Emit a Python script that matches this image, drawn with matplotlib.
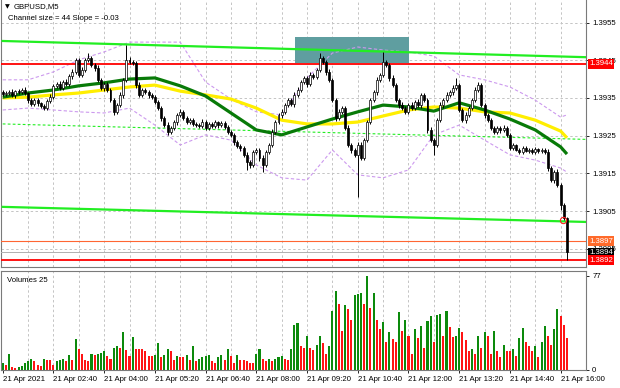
import numpy as np
import matplotlib.pyplot as plt
from matplotlib.patches import Rectangle
from matplotlib import transforms

plt.rcParams['font.family'] = ['Liberation Sans', 'DejaVu Sans']
FS = 5.6

# prices are stored as points (0.00001) above 1.39000
BASE = 1.39
PT = 0.00001

first_open_pt = 365
closes_pt = [
    360,
    363, 366, 358, 368, 366, 371, 363, 344, 334, 344,
    336, 328, 323, 342, 352, 382, 387, 376, 392, 387,
    408, 419, 450, 411, 424, 450, 456, 437, 429, 397,
    376, 387, 371, 344, 313, 331, 358, 397, 450, 445,
    443, 384, 358, 371, 366, 358, 352, 339, 323, 297,
    278, 260, 270, 286, 305, 313, 297, 286, 291, 281,
    279,
    276, 286, 270, 281, 276, 286, 278, 283, 273, 260,
    252, 233, 222, 217, 199, 180, 172, 207, 212, 191,
    172, 207, 225, 260, 286, 305, 313, 331, 344, 334,
    358, 371, 392, 403, 387, 411, 405, 424, 456, 445,
    419, 397, 344, 297, 313, 323, 270, 225, 212, 199,
    225, 191, 238, 286, 344, 366, 397, 411, 445, 437,
    403, 384, 344, 331, 323, 313, 331, 323, 339, 331,
    358, 344, 265, 238, 225, 291, 331, 344, 358, 366,
    376, 384, 318, 291, 305, 323, 344, 371, 384, 331,
    305, 291, 270, 260, 270, 265, 270, 252, 217, 225,
    212, 207, 217,
    210,
    212, 207, 214, 209, 212, 207, 164, 132, 154, 119, 66, 32, -60,
]
upper_wick_pt = [
    5, 6, 5, 8, 4, 6, 5, 7, 4, 6,
    5, 6, 4, 7, 5, 8, 6, 5, 7, 6,
    8, 6, 7, 6, 5, 8, 7, 13, 5, 6,
    7, 5, 6, 4, 5, 6, 5, 7, 5, 40,
    8, 6, 5, 7, 6, 5, 6, 4, 5, 6,
    5, 4, 7, 5, 6, 5, 8, 4, 6, 5,
    6, 5, 4, 7, 5, 6, 5, 6, 4, 6,
    5, 6, 4, 5, 6, 7, 5, 8, 6, 5,
    6, 5, 7, 6, 5, 8, 6, 5, 7, 6,
    5, 6, 8, 7, 5, 6, 6, 7, 5, 6,
    13, 6, 5, 7, 6, 5, 8, 6, 5, 7,
    6, 5, 7, 8, 6, 5, 7, 6, 8, 6,
    27, 6, 5, 7, 6, 5, 8, 6, 5, 7,
    6, 8, 5, 6, 5, 7, 6, 5, 8, 6,
    7, 6, 8, 19, 6, 5, 7, 6, 5, 8,
    7, 6, 5, 6, 7, 5, 6, 5, 7, 6,
    5, 6, 4, 5, 6, 5, 4, 6, 5, 4,
    5, 6, 7, 6, 5, 8, 5, 4, 3,
]
lower_wick_pt = [
    5, 4, 6, 5, 7, 5, 6, 5, 8, 6,
    5, 7, 6, 5, 5, 6, 5, 7, 6, 5,
    6, 5, 7, 5, 6, 5, 4, 6, 5, 7,
    6, 5, 7, 6, 5, 8, 6, 5, 7, 6,
    5, 6, 7, 5, 6, 5, 7, 6, 5, 6,
    7, 6, 8, 6, 5, 7, 6, 5, 6, 5,
    6, 5, 7, 5, 6, 5, 6, 5, 7, 6,
    5, 6, 5, 7, 6, 8, 6, 20, 7, 5,
    6, 8, 19, 6, 7, 5, 6, 5, 7, 6,
    5, 6, 7, 5, 6, 5, 7, 6, 5, 6,
    5, 6, 7, 5, 6, 8, 6, 7, 5, 6,
    8, 6, 112, 6, 7, 5, 6, 5, 7, 6,
    5, 6, 7, 6, 5, 8, 6, 5, 7, 6,
    5, 6, 7, 6, 8, 5, 26, 6, 5, 7,
    6, 5, 7, 6, 5, 6, 7, 5, 6, 5,
    6, 5, 7, 6, 5, 6, 5, 7, 6, 5,
    6, 5, 4, 6, 5, 4, 5, 6, 5, 4,
    6, 5, 7, 6, 8, 6, 13, 6, 20,
]
volumes = [
    5, 4, 13, 2, 1, 2, 3, 5, 7, 9,
    7, 4, 3, 9, 8, 8, 4, 7, 8, 9,
    7, 12, 8, 25, 17, 13, 8, 7, 13, 12,
    13, 14, 15, 11, 9, 18, 19, 18, 31, 16,
    11, 27, 17, 17, 17, 15, 11, 11, 12, 22,
    10, 12, 17, 15, 8, 11, 10, 10, 12, 8,
    19, 7, 9, 10, 11, 12, 7, 5, 10, 12,
    8, 17, 11, 5, 12, 8, 8, 7, 5, 5,
    13, 17, 9, 7, 9, 7, 9, 10, 11, 9,
    8, 17, 37, 38, 19, 18, 28,
    18, 16, 20, 28, 22, 13, 19, 48, 65, 54,
    32, 53, 50, 41, 61, 62, 63, 54, 77, 51,
    63, 41, 33, 39, 23, 31, 25, 23, 47, 32,
    41, 28, 13, 33, 26, 36, 18, 40, 44, 23,
    45, 46, 28, 48, 35, 27, 28, 34, 31, 24,
    15, 17, 13, 28, 18, 31, 28, 13, 32, 15,
    10, 20, 15, 15, 17, 11, 26, 34, 23, 19,
    15, 19, 10, 23, 36, 28, 20, 33, 50, 44,
    37, 26,
]

# indicator lines, sampled every 8 bars
ma_bars = [0, 8, 16, 24, 32, 40, 48, 56, 64, 72, 80, 88, 96, 104, 112, 120,
           128, 136, 144, 152, 160, 168, 176, 178]
ma_yellow_pt = [350, 352, 358, 363, 371, 379, 384, 368, 358, 347, 323, 291,
                281, 281, 286, 302, 318, 326, 323, 313, 310, 291, 262, 244]
ma_green_pt = [352, 363, 371, 382, 390, 400, 403, 382, 355, 310, 265, 252,
               273, 294, 313, 331, 326, 315, 337, 318, 294, 265, 220, 201]
band_upper_pt = [398, 398, 419, 451, 472, 498, 498, 498, 392, 347, 313, 305,
                 403, 469, 485, 477, 472, 461, 411, 398, 379, 344, 299, 305]
band_lower_pt = [318, 323, 318, 313, 310, 323, 278, 225, 252, 238, 172, 138,
                 132, 212, 146, 138, 159, 252, 278, 238, 199, 185, 164, 153]

channel_bars = [0, 184]
channel_upper_pt = [501, 458]
channel_mid_pt = [281, 240]
channel_lower_pt = [61, 21]

zone_bars = [92.2, 128.2]
zone_pt = [442, 512]

level_resist = 1.3944
level_support = 1.3892
level_orange = 1.3897
level_bid = 1.3894
price_ticks = [1.3895, 1.3905, 1.3915, 1.3925, 1.3935, 1.3945, 1.3955]

time_bars = [0, 16, 32, 48, 64, 80, 96, 112, 128, 144, 160, 176]
time_labels = ['21 Apr 2021', '21 Apr 02:40', '21 Apr 04:00', '21 Apr 05:20',
               '21 Apr 06:40', '21 Apr 08:00', '21 Apr 09:20', '21 Apr 10:40',
               '21 Apr 12:00', '21 Apr 13:20', '21 Apr 14:40', '21 Apr 16:00']

marker_bar, marker_pt = 176.7, 26


def px(v):
    return BASE + np.asarray(v, dtype=float) * PT


fig = plt.figure(figsize=(6.2, 3.88), dpi=100)
ax = fig.add_axes([1 / 620, 1 - 267 / 388, 585 / 620, 267 / 388])
axv = fig.add_axes([1 / 620, 1 - 370 / 388, 585 / 620, 99 / 388])

xlim = (-0.54, 184.0)
grid_kw = dict(color='#c4c4c4', lw=0.7, ls=(0, (2.5, 2.5)), zorder=0)

# ---- price panel
ax.set_xlim(*xlim)
ax.set_ylim(px(-98.5), px(609.7))
for b in range(8, 184, 8):
    ax.axvline(b, **grid_kw)
    axv.axvline(b, **grid_kw)
for p in price_ticks:
    ax.axhline(p, **grid_kw)

ax.add_patch(Rectangle((zone_bars[0], px(zone_pt[0])), zone_bars[1] - zone_bars[0],
                       px(zone_pt[1]) - px(zone_pt[0]), fc='#5f9ea0', ec='none', zorder=1))

ax.plot(ma_bars, px(band_upper_pt), color='#cc99ee', lw=0.8, ls=(0, (3, 2)), zorder=2)
ax.plot(ma_bars, px(band_lower_pt), color='#cc99ee', lw=0.8, ls=(0, (3, 2)), zorder=2)

ax.plot(channel_bars, px(channel_upper_pt), color='#22ee22', lw=1.6, zorder=3)
ax.plot(channel_bars, px(channel_lower_pt), color='#22ee22', lw=1.6, zorder=3)
ax.plot(channel_bars, px(channel_mid_pt), color='#22ee22', lw=0.8, ls=(0, (2.5, 2)), zorder=3)

ax.axhline(level_resist, color='#ff0000', lw=1.3, zorder=3)
ax.axhline(level_support, color='#ff0000', lw=1.3, zorder=3)
ax.axhline(level_orange, color='#ff6633', lw=0.8, zorder=3)
ax.axhline(level_bid, color='#b0b0b0', lw=0.7, zorder=3)

ax.plot(ma_bars, px(ma_yellow_pt), color='#ffee00', lw=2.3, zorder=3.5,
        solid_capstyle='butt')
ax.plot(ma_bars, px(ma_green_pt), color='#087a08', lw=2.3, zorder=3.6,
        solid_capstyle='butt')

n = len(closes_pt)
idx = np.arange(n)
closes = px(closes_pt)
opens = np.concatenate([[px(first_open_pt)], closes[:-1]])
highs = np.maximum(opens, closes) + np.array(upper_wick_pt) * PT
lows = np.minimum(opens, closes) - np.array(lower_wick_pt) * PT
up = closes > opens
ax.vlines(idx, lows, highs, color='black', lw=0.7, zorder=4)
body = np.maximum(np.abs(closes - opens), 1.5 * PT)
ax.bar(idx, body, bottom=np.minimum(opens, closes), width=0.62,
       color=np.where(up, 'white', 'black'), edgecolor='black', linewidth=0.5, zorder=5)

ax.plot(marker_bar, px(marker_pt), 'o', ms=4.5, mfc='none', mec='#ff2020', mew=0.8, zorder=6)

ax.set_xticks([])
ax.yaxis.tick_right()
ax.set_yticks(price_ticks)
ax.set_yticklabels(['%.4f' % p for p in price_ticks])
ax.tick_params(axis='y', length=2.5, width=0.6, pad=2, labelsize=FS, colors='black')
for s in ax.spines.values():
    s.set_color('#7a7a7a')
    s.set_linewidth(0.8)
ax.spines['top'].set_visible(False)

trans = transforms.blended_transform_factory(ax.transAxes, ax.transData)
for val, bg in [(level_resist, '#ff0000'), (level_orange, '#ff6a2a'),
                (level_bid, '#000000'), (level_support, '#ff0000')]:
    ax.text(1.0 + 3 / 585, val, '%.4f' % val, transform=trans, color='white', fontsize=FS,
            va='center', ha='left', zorder=10, clip_on=False,
            bbox=dict(boxstyle='square,pad=0.18', fc=bg, ec='none'))

fig.text(5 / 620, 1 - 7 / 388, '\u25bc', fontsize=4.5, va='center', ha='left',
         family=['DejaVu Sans'])
fig.text(14 / 620, 1 - 7 / 388, 'GBPUSD,M5', fontsize=FS, va='center', ha='left')
fig.text(8 / 620, 1 - 18 / 388, 'Channel size = 44 Slope = -0.03', fontsize=FS,
         va='center', ha='left')

# ---- volume panel
vol = np.array(volumes)
rising = np.r_[True, vol[1:] > vol[:-1]]
axv.bar(np.arange(len(vol)), vol, width=0.65,
        color=np.where(rising, '#0c8a0c', '#ff1414'), zorder=2)
axv.set_xlim(*xlim)
axv.set_ylim(-0.4, 81.1)
axv.yaxis.tick_right()
axv.set_yticks([0, 77])
axv.set_yticklabels(['0', '77'])
axv.tick_params(axis='y', length=2.5, width=0.6, pad=2, labelsize=FS)
axv.set_xticks(time_bars)
axv.set_xticklabels(time_labels)
axv.tick_params(axis='x', length=2.5, width=0.6, pad=2, labelsize=FS)
for lab in axv.get_xticklabels():
    lab.set_horizontalalignment('left')
for s in axv.spines.values():
    s.set_color('#7a7a7a')
    s.set_linewidth(0.8)
axv.text(6 / 585, 0.94, 'Volumes 25', transform=axv.transAxes, fontsize=FS,
         va='top', ha='left')

fig.savefig('out.png', dpi=100)
